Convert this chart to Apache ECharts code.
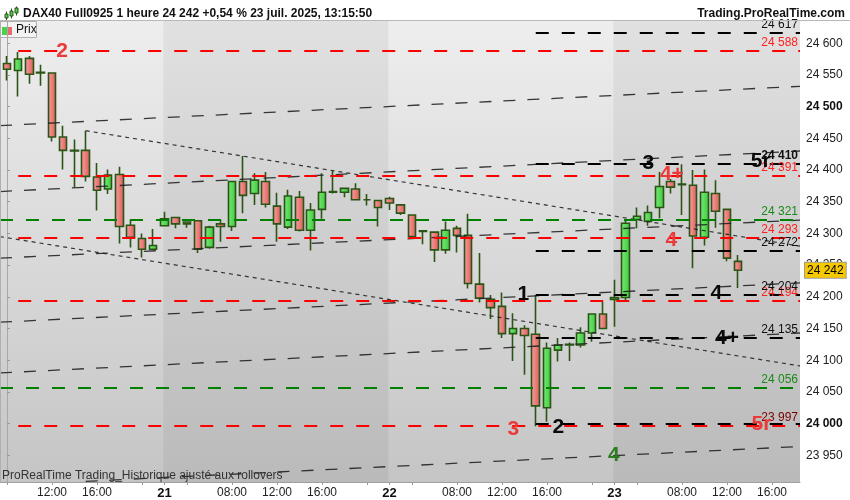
<!DOCTYPE html>
<html><head><meta charset="utf-8">
<script src="https://cdn.jsdelivr.net/npm/echarts@6/dist/echarts.min.js"></script>
<style>html,body{margin:0;padding:0;background:#fff}#c{width:850px;height:500px}</style>
</head><body><div id="c"></div>
<script>
// ---- candles (one per hour) ----
const openP  = [24568,24557,24576,24554,24553,24452,24431,24431,24389,24370,24393,24313,24292,24275,24312,24325,24318,24320,24278,24315,24311,24382,24363,24382,24343,24310,24357,24305,24338,24366,24365,24370,24353,24352,24355,24345,24329,24304,24302,24274,24308,24297,24220,24196,24185,24142,24150,24141,24025,24116,24124,24124,24143,24173,24196,24199,24322,24319,24341,24382,24378,24376,24294,24363,24338,24256];
const closeP = [24559,24575,24551,24553,24452,24431,24430,24390,24368,24392,24311,24294,24275,24281,24323,24315,24315,24275,24310,24311,24382,24360,24384,24346,24315,24359,24305,24337,24365,24365,24371,24353,24353,24341,24348,24332,24295,24303,24274,24305,24297,24221,24198,24183,24142,24150,24139,24028,24119,24124,24125,24143,24173,24150,24199,24316,24327,24333,24374,24373,24377,24296,24365,24335,24261,24242];
const lowP   = [24541,24516,24536,24533,24445,24401,24373,24382,24336,24362,24284,24278,24262,24274,24311,24308,24309,24269,24276,24287,24304,24332,24345,24341,24287,24307,24303,24273,24323,24363,24357,24352,24344,24311,24337,24329,24292,24283,24255,24268,24270,24213,24191,24165,24135,24099,24077,23996,24003,24098,24099,24120,24129,24150,24153,24192,24308,24312,24324,24363,24329,24245,24281,24309,24256,24214];
const highP  = [24580,24586,24580,24566,24554,24470,24448,24462,24411,24401,24405,24322,24300,24307,24334,24326,24319,24321,24312,24322,24383,24422,24395,24397,24364,24369,24367,24348,24395,24399,24371,24379,24362,24353,24358,24346,24330,24305,24303,24319,24312,24331,24269,24203,24207,24174,24155,24203,24128,24135,24128,24152,24174,24192,24227,24321,24341,24344,24397,24386,24409,24400,24401,24384,24339,24266];
const lastPrice = 24242;

// ---- time slots (x axis) ----
const days = ['18','21','22','23'];
const dayFirstHour = [8,2,2,2];
const dayLastHour  = [21,21,21,18];
const labelHours = [8,12,16];

// ---- y axis ticks ----
const yTicks = [23950,24000,24050,24100,24150,24200,24250,24300,24350,24400,24450,24500,24550,24600];
const yBold = [24000,24500];

// ---- horizontal levels ----
const redLevels   = [24588,24391,24293,24194,23997];
const greenLevels = [24321,24056];
const blackLevels = [24617,24410,24272,24204,24135,24000];
const blackUnlabeled = [24000];

// ---- sloped lines [x1, price1, x2, price2] (x = bar index) ----
const channelLines = [
  [-0.62,24470,70.49,24532],
  [-0.62,24366,70.49,24430],
  [-0.62,24261,70.49,24321],
  [-0.62,24160,70.49,24222],
  [-0.62,24080,70.49,24143],
  [7,23909,70.49,23964]
];
const dottedLines = [
  [7,24462,70.49,24280],
  [-0.62,24295,70.49,24091]
];

// ---- annotations [x, price, text] ----
const redNotes   = [[4.9,24587,'2'],[59.1,24394,'4+'],[59.05,24290,'4'],[45.0,23992,'3'],[67.06,23999,'5r']];
const blackNotes = [[57.0,24410,'3'],[67.0,24414,'5r'],[45.9,24204,'1'],[63.06,24205,'4'],[64.0,24134,'4+'],[49.0,23994,'2']];
const greenNotes = [[53.95,23951,'4']];

const xMin = -0.62, xMax = 70.49;

// build slots
const slotDay = [], slotHour = [];
days.forEach((d,k)=>{ for(let h=dayFirstHour[k]; h<=dayLastHour[k]; h++){ slotDay.push(k); slotHour.push(h); } });
const tickIdx = [], labelIdx = [], labelText = {};
const dayStarts = [];
slotHour.forEach((h,i)=>{
  const k = slotDay[i];
  const isDayStart = k>0 && h===dayFirstHour[k];
  if (isDayStart) dayStarts.push(i);
  if (isDayStart || h%4===0) tickIdx.push(i);
  if (isDayStart) { labelIdx.push(i); labelText[i] = '{b|'+days[k]+'}'; }
  else if (labelHours.indexOf(h)>=0 && i>0) { labelIdx.push(i); labelText[i] = (h<10?'0':'')+h+':00'; }
});

const fmt = v => { const s = String(Math.round(v)); return s.slice(0,s.length-3)+' '+s.slice(-3); };
const candleData = openP.map((o,i)=>[i,o,closeP[i],lowP[i],highP[i]]);

function levelData(levels, startX, opts) {
  return levels.map(v=>{
    const unl = opts.unlabeled && opts.unlabeled.indexOf(v)>=0;
    const first = {coord:[startX, v], name: unl ? '' : fmt(v)};
    if (unl) first.label = {show:false};
    if (opts.boldValue === v) first.label = {fontWeight:'bold'};
    return [first, {coord:[xMax, v]}];
  });
}
function slopeData(lines){ return lines.map(l=>[{coord:[l[0],l[1]]},{coord:[l[2],l[3]]}]); }

const FONT = 'Liberation Sans, Arial, sans-serif';
const vgrad = (a,b)=>({type:'linear',x:0,y:0,x2:0,y2:1,colorStops:[{offset:0,color:a},{offset:1,color:b}]});
const hgrad = (a,b)=>({type:'linear',x:0,y:0,x2:1,y2:0,colorStops:[{offset:0,color:a},{offset:1,color:b}]});

const levelLabel = (color)=>({show:true, position:'insideEndTop', formatter:'{b}', color:color, fontSize:12, fontFamily:FONT, distance:2, textBorderWidth:0});
const noteLabel = (color)=>({show:true, position:'inside', formatter:p=>p.data[2], color:color, fontSize:21, fontWeight:'bold', fontFamily:FONT, textBorderWidth:0, textBorderColor:'transparent', opacity:1});

const option = {
  animation:false,
  backgroundColor:'#ffffff',
  textStyle:{fontFamily:FONT},
  title:[
    {text:'DAX40 Full0925 1 heure 24 242 +0,54 % 23 juil. 2025, 13:15:50', left:18, top:3, textStyle:{fontSize:12, fontWeight:'bold', color:'#111', fontFamily:FONT}},
    {text:'Trading.ProRealTime.com', right:0, top:3, textStyle:{fontSize:12, fontWeight:'bold', color:'#111', fontFamily:FONT}}
  ],
  graphic:[
    {type:'line', shape:{x1:0,y1:20.5,x2:850,y2:20.5}, style:{stroke:'#b8b8b8', lineWidth:1}, z:100},
    {type:'line', shape:{x1:0.5,y1:21,x2:0.5,y2:482}, style:{stroke:'#b0b0b0', lineWidth:1}, z:100},
    {type:'group', left:0, top:21, z:100, children:[
      {type:'rect', shape:{x:0.5,y:0.5,width:36,height:16}, style:{fill:'#f3f3f3', stroke:'#b0b0b0', lineWidth:1}},
      {type:'rect', shape:{x:2,y:6,width:5,height:8}, style:{fill:'#4ccf4c'}},
      {type:'rect', shape:{x:7,y:6,width:5,height:8}, style:{fill:'#e86a6a'}},
      {type:'text', x:16, y:9, style:{text:'Prix', fill:'#111', fontSize:12, fontFamily:FONT, verticalAlign:'middle'}}
    ]},
    {type:'group', left:4, top:4, z:100, children:[
      {type:'line', shape:{x1:2,y1:4,x2:2,y2:13}, style:{stroke:'#2b5515', lineWidth:1}},
      {type:'rect', shape:{x:0.5,y:6.5,width:3,height:4}, style:{fill:'#4ccf4c', stroke:'#2b5515', lineWidth:1}},
      {type:'line', shape:{x1:7,y1:1,x2:7,y2:11}, style:{stroke:'#2b5515', lineWidth:1}},
      {type:'rect', shape:{x:5.5,y:3.5,width:3,height:5}, style:{fill:'#4ccf4c', stroke:'#2b5515', lineWidth:1}},
      {type:'line', shape:{x1:12,y1:-1,x2:12,y2:8}, style:{stroke:'#2b5515', lineWidth:1}},
      {type:'rect', shape:{x:10.5,y:0.5,width:3,height:5}, style:{fill:'#4ccf4c', stroke:'#2b5515', lineWidth:1}}
    ]},
    {type:'text', left:2, top:470, z:100, style:{text:'ProRealTime Trading_Historique ajusté aux rollovers', fill:'#333', fontSize:12, fontFamily:FONT}}
  ],
  grid:{left:0, right:50, top:21, bottom:18, show:true, borderWidth:0, backgroundColor:vgrad('#eeeeee','#c5c5c5')},
  xAxis:{
    type:'value', min:xMin, max:xMax,
    axisLine:{show:true, lineStyle:{color:'#a0a0a0'}},
    axisTick:{show:true, customValues:tickIdx, length:3, lineStyle:{color:'#999'}},
    axisLabel:{show:true, customValues:labelIdx, formatter:v=>labelText[Math.round(v)]||'', color:'#222', fontSize:12, margin:5, fontFamily:FONT,
      rich:{b:{fontWeight:'bold', fontSize:13, color:'#111', fontFamily:FONT}}},
    splitLine:{show:false}
  },
  yAxis:{
    type:'value', position:'right', min:23908, max:24635, scale:true,
    axisLine:{show:true, lineStyle:{color:'#a8a8a8'}},
    axisTick:{show:true, customValues:yTicks, length:3, lineStyle:{color:'#999'}},
    axisLabel:{show:true, customValues:yTicks, margin:6, color:'#222', fontSize:12, fontFamily:FONT,
      formatter:v=> yBold.indexOf(Math.round(v))>=0 ? '{b|'+fmt(v)+'}' : fmt(v),
      rich:{b:{fontWeight:'bold', fontSize:12, color:'#111', fontFamily:FONT}}},
    splitLine:{show:false}
  },
  series:[
    {type:'line', data:[], z:1, silent:true,
      markArea:{silent:true, itemStyle:{color:vgrad('#e1e1e1','#bababa')},
        data:[[{xAxis:dayStarts[0]-0.1},{xAxis:dayStarts[1]-0.1}],[{xAxis:dayStarts[2]-0.1},{xAxis:xMax}]]}},
    {type:'candlestick', name:'Prix', z:3, data:candleData, barWidth:8,
      itemStyle:{color:hgrad('#7aec7a','#3cc83c'), color0:hgrad('#f6a4a4','#e05858'), borderColor:'#2b5515', borderColor0:'#2b5515', borderWidth:1.6},
      emphasis:{disabled:true}},
    {type:'line', data:[], z:5, silent:true,
      markLine:{silent:true, symbol:['none','none'], lineStyle:{color:'#222', width:1.3, type:[12,12], opacity:0.9}, label:{show:false}, data:slopeData(channelLines)}},
    {type:'line', data:[], z:5, silent:true,
      markLine:{silent:true, symbol:['none','none'], lineStyle:{color:'#222', width:1.2, type:[4,4], opacity:0.9}, label:{show:false}, data:slopeData(dottedLines)}},
    {type:'line', data:[], z:6, silent:true,
      markLine:{silent:true, symbol:['none','none'], lineStyle:{color:'#008000', width:2, type:[13,13]}, label:levelLabel('#1a8a1a'), data:levelData(greenLevels, xMin, {})}},
    {type:'line', data:[], z:6, silent:true,
      markLine:{silent:true, symbol:['none','none'], lineStyle:{color:'#ff0000', width:2, type:[13,13]}, label:levelLabel('#ff2020'), data:levelData(redLevels, 1, {})}},
    {type:'line', data:[], z:7, silent:true,
      markLine:{silent:true, symbol:['none','none'], lineStyle:{color:'#000000', width:2, type:[13,13]}, label:levelLabel('#111'), data:levelData(blackLevels, 47, {unlabeled:blackUnlabeled, boldValue:24410})}},
    {type:'line', data:[], z:20, silent:true,
      markLine:{silent:true, symbol:['none','none'], lineStyle:{color:'rgba(0,0,0,0)', width:1, type:'solid'},
        label:{show:true, position:'end', distance:5, formatter:'{b}', color:'#000', fontSize:12, fontFamily:FONT, backgroundColor:'#f5c800', borderColor:'#9a9a9a', borderWidth:1, padding:[2,2,1,2], opacity:1},
        data:[{yAxis:lastPrice, name:fmt(lastPrice)}]}},
    {type:'scatter', data:redNotes, z:10, symbolSize:1, silent:true, itemStyle:{color:'rgba(0,0,0,0)'}, label:noteLabel('#ea3b3b')},
    {type:'scatter', data:blackNotes, z:10, symbolSize:1, silent:true, itemStyle:{color:'rgba(0,0,0,0)'}, label:noteLabel('#0a0a0a')},
    {type:'scatter', data:greenNotes, z:10, symbolSize:1, silent:true, itemStyle:{color:'rgba(0,0,0,0)'}, label:noteLabel('#2b7d1f')}
  ]
};
// dark red tint for the 23 997 label (overlaps the 24 000 black level)
option.series[5].markLine.data[4][0].label = {color:'#7a0000'};
const chart = echarts.init(document.getElementById('c'));
chart.setOption(option);
</script></body></html>
